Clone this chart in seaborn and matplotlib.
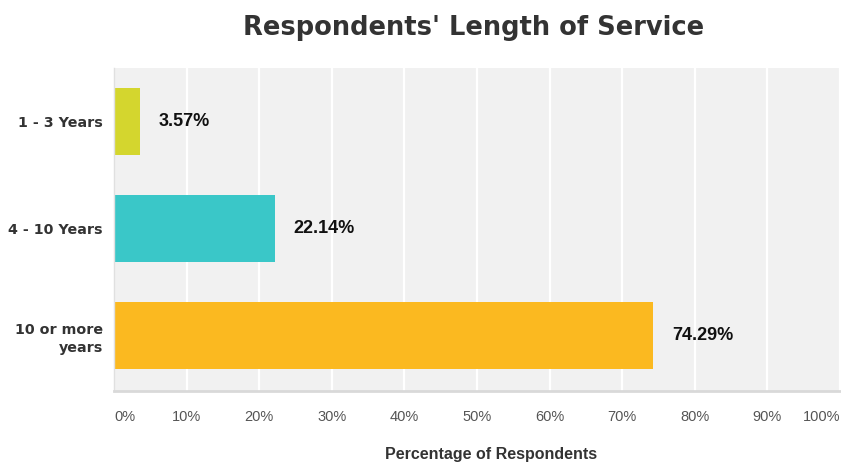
import matplotlib
matplotlib.use("Agg")
import matplotlib.pyplot as plt
import seaborn as sns
import pandas as pd

categories = ["1 - 3 Years", "4 - 10 Years", "10 or more\nyears"]
values = [3.57, 22.14, 74.29]
colors = ["#d4d62e", "#3ac7c8", "#fbb920"]
tick_values = [0, 10, 20, 30, 40, 50, 60, 70, 80, 90, 100]
tick_labels = ["0%", "10%", "20%", "30%", "40%", "50%", "60%", "70%", "80%", "90%", "100%"]

df = pd.DataFrame({"category": categories, "value": values})

sns.set_style("white")
plt.rcParams["font.family"] = ["Liberation Sans", "DejaVu Sans"]

fig = plt.figure(figsize=(8.41, 4.63), dpi=100)
ax = fig.add_axes([114/841, 1 - 391/463, 726/841, (391 - 68)/463])
ax.set_facecolor("#f1f1f1")

sns.barplot(data=df, x="value", y="category", hue="category", palette=colors,
            orient="h", width=0.63, dodge=False, legend=False, ax=ax,
            saturation=1, linewidth=0)

ax.set_xlim(0, 100)
ax.set_ylim(2.52, -0.5)
ax.set_xticks(tick_values)
ax.set_xticklabels(tick_labels)
ax.grid(axis="x", color="white", linewidth=1.6)
ax.set_axisbelow(True)
for s in ["top", "right"]:
    ax.spines[s].set_visible(False)
ax.spines["bottom"].set_color("#d9d9d9")
ax.spines["bottom"].set_linewidth(2)
ax.spines["left"].set_color("#e0e0e0")
ax.spines["left"].set_linewidth(1)

ax.tick_params(axis="x", length=0, pad=14, labelsize=10.5, labelcolor="#555555")
ax.tick_params(axis="y", length=0, pad=8, labelsize=10.3, labelcolor="#333333")
for lbl in ax.get_yticklabels():
    lbl.set_fontweight("bold")
    lbl.set_family(["DejaVu Sans"])
    lbl.set_horizontalalignment("right")
    lbl.set_linespacing(1.35)
xl = ax.get_xticklabels()
xl[0].set_horizontalalignment("left")
xl[-1].set_horizontalalignment("right")

for i, v in enumerate(values):
    ax.annotate(f"{v:.2f}%", xy=(v, i), xytext=(19, 0), textcoords="offset pixels",
                va="center", ha="left", fontsize=13, fontweight="bold", color="#111111")

ax.set_xlabel("")
ax.set_ylabel("")
fig.text(491/841, 1 - 454/463, "Percentage of Respondents", ha="center", va="center",
         fontsize=11.5, fontweight="bold", color="#333333")

fig.text(474/841, 1 - 35/463, "Respondents' Length of Service", ha="center", va="baseline",
         fontsize=18.5, fontweight="bold", color="#333333", family=["DejaVu Sans"])

fig.savefig("out.png", dpi=100)
